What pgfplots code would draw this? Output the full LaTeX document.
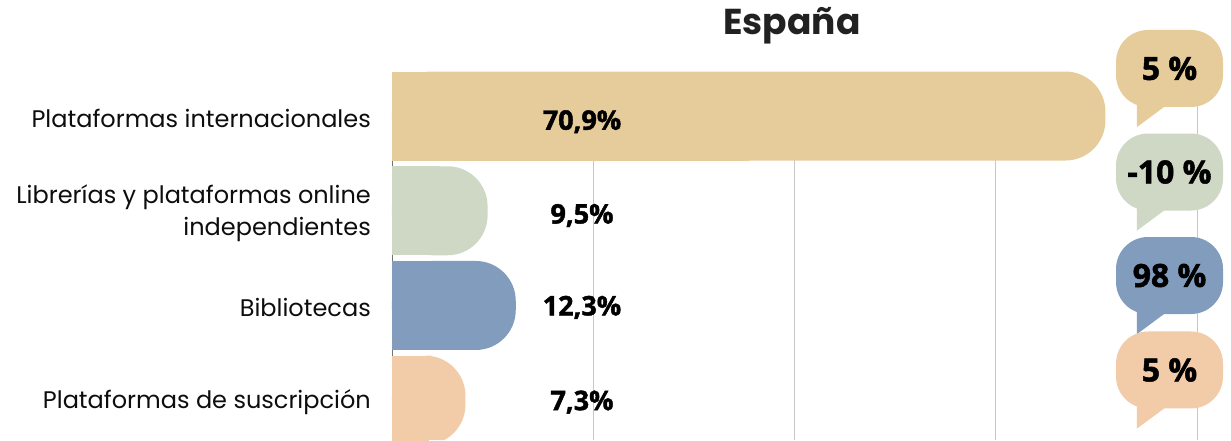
\documentclass[border=0pt]{standalone}
\usepackage{fontspec}
\setmainfont{Poppins}
\newfontfamily\valfont{Open Sans}[BoldFeatures={FakeBold=1.6}]
\usepackage{pgfplots}
\usepackage{pgfplotstable}
\pgfplotsset{compat=1.18}
\definecolor{cgold}{HTML}{E6CC9A}
\definecolor{csage}{HTML}{CED8C5}
\definecolor{cblue}{HTML}{819CBD}
\definecolor{cpeach}{HTML}{F2CBA8}
\pgfplotstableread{
pos value
3 70.9
2 9.5
1 12.3
0 7.3
}\sharedata
\tikzset{bubble/.style={fill=#1, rounded corners=32pt, minimum width=107pt, minimum height=77pt, inner sep=0pt, font=\valfont\bfseries\fontsize{32}{32}\selectfont}}
\begin{document}
\begin{tikzpicture}
\begin{axis}[
  at={(0,0)}, anchor=south west,
  scale only axis, width=805pt, height=368.5pt,
  xmin=0, xmax=80, ymin=-0.42, ymax=3.47,
  axis lines*=left,
  x axis line style={draw=none},
  y axis line style={draw=black!55, line width=0.6pt},
  xtick={20,40,60,80}, xticklabels={},
  xmajorgrids, grid style={draw=black!22, line width=0.8pt},
  ytick={0,1,2,3},
  yticklabels={Plataformas de suscripción, Bibliotecas, {Librerías y plataformas online\\independientes}, Plataformas internacionales},
  yticklabel style={align=right, font=\fontsize{24}{32}\selectfont, text=black!95, inner sep=0pt, xshift=-21pt, yshift=-2pt},
  major tick length=0pt,
  clip mode=individual,
  xbar, bar width=89pt, bar shift=0pt,
]
\addplot[fill=cgold, draw=none, rounded corners=40pt, restrict y to domain=2.5:3.5] table[x=value, y=pos]{\sharedata};
\addplot[fill=cgold, draw=none, restrict y to domain=2.5:3.5] table[x expr=\thisrow{value}/2, y=pos]{\sharedata};
\addplot[fill=csage, draw=none, rounded corners=40pt, restrict y to domain=1.5:2.5] table[x=value, y=pos]{\sharedata};
\addplot[fill=csage, draw=none, restrict y to domain=1.5:2.5] table[x expr=\thisrow{value}/2, y=pos]{\sharedata};
\addplot[fill=cblue, draw=none, rounded corners=40pt, restrict y to domain=0.5:1.5] table[x=value, y=pos]{\sharedata};
\addplot[fill=cblue, draw=none, restrict y to domain=0.5:1.5] table[x expr=\thisrow{value}/2, y=pos]{\sharedata};
\addplot[fill=cpeach, draw=none, rounded corners=40pt, restrict y to domain=-0.5:0.5] table[x=value, y=pos]{\sharedata};
\addplot[fill=cpeach, draw=none, restrict y to domain=-0.5:0.5] table[x expr=\thisrow{value}/2, y=pos]{\sharedata};
\begin{scope}[font=\valfont\bfseries\fontsize{27}{27}\selectfont]
\node at (axis cs:18.88,2.94) {70,9\%};
\node at (axis cs:18.88,1.95) {9,5\%};
\node at (axis cs:18.88,0.98) {12,3\%};
\node at (axis cs:18.88,-0.02) {7,3\%};
\end{scope}
\node[font=\bfseries\fontsize{36}{36}\selectfont, text=black!87] at (axis cs:39.75,3.95) {España};
\node[bubble=cgold] (b1) at (axis cs:77.27,3.502) {5 \%};
\fill[cgold] ([xshift=21pt,yshift=10pt]b1.south west) -- ([xshift=21pt,yshift=-20pt]b1.south west) -- ([xshift=48pt,yshift=0pt]b1.south west) -- ([xshift=48pt,yshift=10pt]b1.south west) -- cycle;
\node[bubble=csage] (b2) at (axis cs:77.27,2.409) {-10 \%};
\fill[csage] ([xshift=21pt,yshift=10pt]b2.south west) -- ([xshift=21pt,yshift=-20pt]b2.south west) -- ([xshift=48pt,yshift=0pt]b2.south west) -- ([xshift=48pt,yshift=10pt]b2.south west) -- cycle;
\node[bubble=cblue] (b3) at (axis cs:77.27,1.3165) {98 \%};
\fill[cblue] ([xshift=21pt,yshift=10pt]b3.south west) -- ([xshift=21pt,yshift=-20pt]b3.south west) -- ([xshift=48pt,yshift=0pt]b3.south west) -- ([xshift=48pt,yshift=10pt]b3.south west) -- cycle;
\node[bubble=cpeach] (b4) at (axis cs:77.27,0.319) {5 \%};
\fill[cpeach] ([xshift=21pt,yshift=10pt]b4.south west) -- ([xshift=21pt,yshift=-20pt]b4.south west) -- ([xshift=48pt,yshift=0pt]b4.south west) -- ([xshift=48pt,yshift=10pt]b4.south west) -- cycle;
\end{axis}
\pgfresetboundingbox
\useasboundingbox (-392pt,0pt) rectangle (839pt,440pt);
\end{tikzpicture}
\end{document}
